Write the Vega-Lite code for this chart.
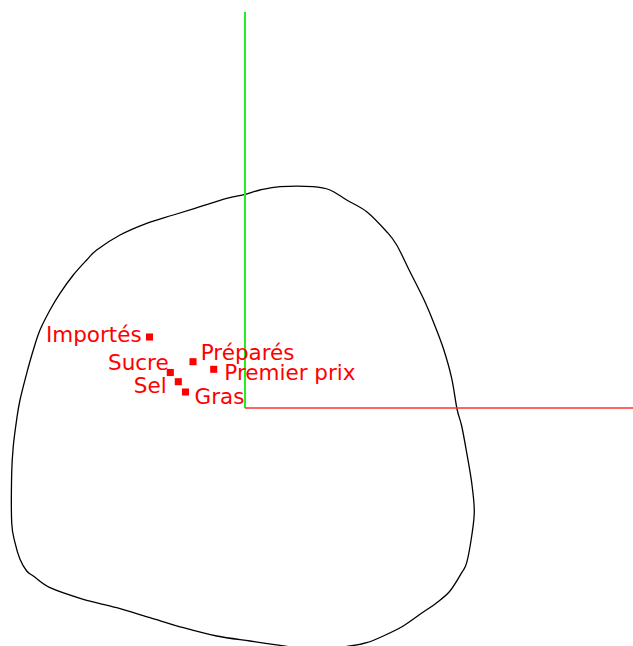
{
  "$schema": "https://vega.github.io/schema/vega-lite/v6.json",
  "width": 633,
  "height": 646,
  "autosize": "none",
  "padding": 0,
  "background": "white",
  "config": {"view": {"stroke": null}},
  "datasets": {
    "curve": [
      {"i": 1, "x": 0.0, "y": 2.137},
      {"i": 2, "x": 0.15, "y": 2.18},
      {"i": 3, "x": 0.35, "y": 2.213},
      {"i": 4, "x": 0.68, "y": 2.213},
      {"i": 5, "x": 0.85, "y": 2.18},
      {"i": 6, "x": 1.017, "y": 2.08},
      {"i": 7, "x": 1.217, "y": 1.963},
      {"i": 8, "x": 1.417, "y": 1.763},
      {"i": 9, "x": 1.517, "y": 1.63},
      {"i": 10, "x": 1.65, "y": 1.363},
      {"i": 11, "x": 1.783, "y": 1.097},
      {"i": 12, "x": 1.883, "y": 0.863},
      {"i": 13, "x": 1.983, "y": 0.597},
      {"i": 14, "x": 2.067, "y": 0.297},
      {"i": 15, "x": 2.12, "y": -0.01},
      {"i": 16, "x": 2.167, "y": -0.18},
      {"i": 17, "x": 2.217, "y": -0.447},
      {"i": 18, "x": 2.267, "y": -0.747},
      {"i": 19, "x": 2.293, "y": -1.03},
      {"i": 20, "x": 2.267, "y": -1.28},
      {"i": 21, "x": 2.217, "y": -1.547},
      {"i": 22, "x": 2.167, "y": -1.647},
      {"i": 23, "x": 2.05, "y": -1.83},
      {"i": 24, "x": 1.917, "y": -1.947},
      {"i": 25, "x": 1.75, "y": -2.063},
      {"i": 26, "x": 1.583, "y": -2.18},
      {"i": 27, "x": 1.383, "y": -2.28},
      {"i": 28, "x": 1.217, "y": -2.347},
      {"i": 29, "x": 1.05, "y": -2.38},
      {"i": 30, "x": 0.7, "y": -2.42},
      {"i": 31, "x": 0.35, "y": -2.373},
      {"i": 32, "x": 0.05, "y": -2.33},
      {"i": 33, "x": -0.283, "y": -2.28},
      {"i": 34, "x": -0.617, "y": -2.197},
      {"i": 35, "x": -0.95, "y": -2.097},
      {"i": 36, "x": -1.283, "y": -1.997},
      {"i": 37, "x": -1.617, "y": -1.913},
      {"i": 38, "x": -1.95, "y": -1.797},
      {"i": 39, "x": -2.117, "y": -1.68},
      {"i": 40, "x": -2.183, "y": -1.63},
      {"i": 41, "x": -2.25, "y": -1.513},
      {"i": 42, "x": -2.3, "y": -1.347},
      {"i": 43, "x": -2.333, "y": -1.147},
      {"i": 44, "x": -2.333, "y": -0.647},
      {"i": 45, "x": -2.317, "y": -0.38},
      {"i": 46, "x": -2.283, "y": -0.113},
      {"i": 47, "x": -2.25, "y": 0.08},
      {"i": 48, "x": -2.183, "y": 0.347},
      {"i": 49, "x": -2.117, "y": 0.58},
      {"i": 50, "x": -2.05, "y": 0.78},
      {"i": 51, "x": -1.95, "y": 0.98},
      {"i": 52, "x": -1.85, "y": 1.147},
      {"i": 53, "x": -1.717, "y": 1.33},
      {"i": 54, "x": -1.583, "y": 1.48},
      {"i": 55, "x": -1.483, "y": 1.58},
      {"i": 56, "x": -1.25, "y": 1.73},
      {"i": 57, "x": -0.983, "y": 1.847},
      {"i": 58, "x": -0.717, "y": 1.93},
      {"i": 59, "x": -0.45, "y": 2.013},
      {"i": 60, "x": -0.183, "y": 2.097}
    ],
    "axes": [
      {"axis": "vertical", "x": 0, "y": 0, "x2": 0, "y2": 3.96},
      {"axis": "horizontal", "x": 0, "y": 0, "x2": 3.88, "y2": 0}
    ],
    "points": [
      {"name": "Importés", "x": -0.955, "y": 0.71, "lx": -1.033, "ly": 0.66},
      {"name": "Préparés", "x": -0.52, "y": 0.463, "lx": -0.443, "ly": 0.48},
      {"name": "Premier prix", "x": -0.313, "y": 0.387, "lx": -0.207, "ly": 0.28},
      {"name": "Sucre", "x": -0.747, "y": 0.355, "lx": -0.763, "ly": 0.38},
      {"name": "Sel", "x": -0.667, "y": 0.263, "lx": -0.783, "ly": 0.147},
      {"name": "Gras", "x": -0.595, "y": 0.16, "lx": -0.505, "ly": 0.04}
    ]
  },
  "layer": [
    {
      "data": {"name": "curve"},
      "mark": {"type": "line", "interpolate": "cardinal-closed", "color": "black", "strokeWidth": 1.3},
      "encoding": {
        "x": {"field": "x", "type": "quantitative", "scale": {"domain": [-2.45, 3.88], "nice": false, "zero": false}, "axis": null},
        "y": {"field": "y", "type": "quantitative", "scale": {"domain": [-2.38, 4.08], "nice": false, "zero": false}, "axis": null},
        "order": {"field": "i", "type": "quantitative"}
      }
    },
    {
      "data": {"name": "axes"},
      "transform": [{"filter": "datum.axis === 'vertical'"}],
      "mark": {"type": "rule", "color": "#22ee22", "strokeWidth": 2},
      "encoding": {
        "x": {"field": "x", "type": "quantitative"},
        "y": {"field": "y", "type": "quantitative"},
        "y2": {"field": "y2"}
      }
    },
    {
      "data": {"name": "axes"},
      "transform": [{"filter": "datum.axis === 'horizontal'"}],
      "mark": {"type": "rule", "color": "#ff3030", "strokeWidth": 1.6},
      "encoding": {
        "x": {"field": "x", "type": "quantitative"},
        "x2": {"field": "x2"},
        "y": {"field": "y", "type": "quantitative"}
      }
    },
    {
      "data": {"name": "points"},
      "mark": {"type": "point", "shape": "square", "filled": true, "color": "#ff0000", "opacity": 1, "size": 50},
      "encoding": {
        "x": {"field": "x", "type": "quantitative"},
        "y": {"field": "y", "type": "quantitative"}
      }
    },
    {
      "data": {"name": "points"},
      "transform": [{"filter": {"field": "name", "oneOf": ["Importés", "Sucre", "Sel"]}}],
      "mark": {"type": "text", "align": "right", "baseline": "alphabetic", "color": "#ff0000", "font": "DejaVu Sans", "fontSize": 21.5},
      "encoding": {
        "x": {"field": "lx", "type": "quantitative"},
        "y": {"field": "ly", "type": "quantitative"},
        "text": {"field": "name"}
      }
    },
    {
      "data": {"name": "points"},
      "transform": [{"filter": {"field": "name", "oneOf": ["Préparés", "Premier prix", "Gras"]}}],
      "mark": {"type": "text", "align": "left", "baseline": "alphabetic", "color": "#ff0000", "font": "DejaVu Sans", "fontSize": 21.5},
      "encoding": {
        "x": {"field": "lx", "type": "quantitative"},
        "y": {"field": "ly", "type": "quantitative"},
        "text": {"field": "name"}
      }
    }
  ]
}
